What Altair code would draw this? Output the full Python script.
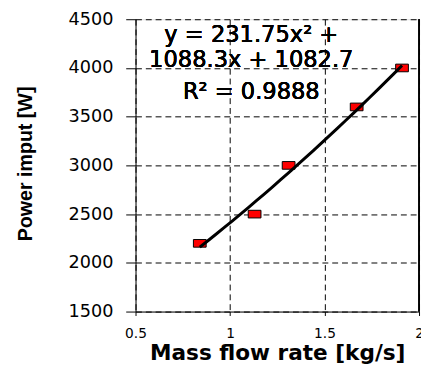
import altair as alt
import pandas as pd

# Data
mass_flow = [0.84, 1.13, 1.31, 1.67, 1.91]
power_input = [2200, 2500, 3000, 3600, 4000]
eq_lines = ["y = 231.75x\u00b2 +", "1088.3x + 1082.7", "R\u00b2 = 0.9888"]
x_ticks = [0.5, 1, 1.5, 2]
y_ticks = [1500, 2000, 2500, 3000, 3500, 4000, 4500]

df = pd.DataFrame({"x": mass_flow, "y": power_input})

xs = alt.Scale(domain=[0.5, 2], nice=False, zero=False)
ys = alt.Scale(domain=[1500, 4500], nice=False, zero=False)

x_axis = alt.Axis(
    values=x_ticks, format="~g", title="Mass flow rate [kg/s]",
    grid=True, gridDash=[6, 4], gridColor="black", gridOpacity=1, gridWidth=1,
    domainColor="black", domainWidth=1, tickColor="black", tickSize=4,
    labelFont="DejaVu Sans", labelFontSize=14, labelColor="black",
    labelBaseline="alphabetic", labelPadding=22, labelFlush=False, labelOverlap=False,
    titleFont="DejaVu Sans", titleFontWeight="bold", titleFontSize=22,
    titleColor="black", titleBaseline="alphabetic", titleY=49,
)
y_axis = alt.Axis(
    values=y_ticks, format="d", title="Power imput [W]",
    grid=True, gridDash=[6, 4], gridColor="black", gridOpacity=1, gridWidth=1,
    domainColor="black", domainWidth=1, tickColor="black", tickSize=10,
    labelFont="DejaVu Sans", labelFontSize=18, labelColor="black",
    labelPadding=13, labelFlush=False, labelOverlap=False,
    titleFont="Liberation Sans", titleFontWeight="bold", titleFontSize=20,
    titleColor="black", titleBaseline="alphabetic", titleAngle=270,
    titleAlign="center", titleX=-106, titleY=147,
)

base = alt.Chart(df)

points = base.mark_point(
    shape="M-1,-0.6H1V0.6H-1Z", size=169, filled=True,
    fill="#FF0000", stroke="black", strokeWidth=1, opacity=1,
).encode(
    x=alt.X("x:Q", scale=xs, axis=x_axis),
    y=alt.Y("y:Q", scale=ys, axis=y_axis),
)

trend = base.transform_regression(
    "x", "y", method="poly", order=2
).mark_line(color="black", strokeWidth=3).encode(
    x=alt.X("x:Q", scale=xs),
    y=alt.Y("y:Q", scale=ys),
)

right_border = alt.Chart(df).mark_rule(color="black", strokeWidth=1).encode(
    x=alt.datum(2)
)

eq_y = [23, 49, 81]
texts = [
    alt.Chart(df).mark_text(
        font="DejaVu Sans", fontSize=23, align="center",
        baseline="alphabetic", color="black",
    ).encode(x=alt.value(118), y=alt.value(yy), text=alt.value(t))
    for t, yy in zip(eq_lines, eq_y)
]

chart = alt.layer(points, trend, right_border, *texts).properties(
    width=289, height=298,
    autosize=alt.AutoSizeParams(type="none"),
    padding={"left": 130, "top": 8, "right": 2, "bottom": 50},
).configure_view(stroke=None).configure(background="white")

chart.save("out.html", embed_options={"renderer": "svg", "actions": False})
